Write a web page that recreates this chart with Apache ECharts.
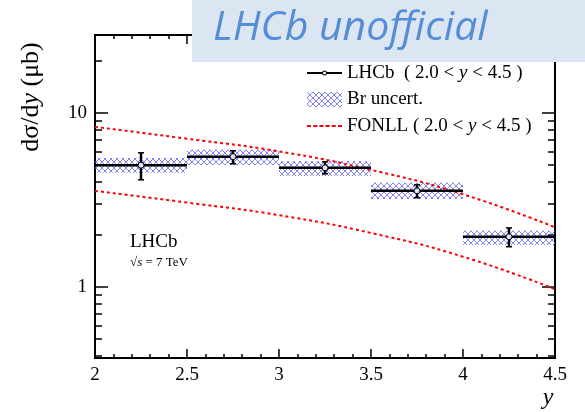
<!DOCTYPE html>
<html>
<head>
<meta charset="utf-8">
<script src="https://cdn.jsdelivr.net/npm/echarts@6/dist/echarts.min.js"></script>
<style>
  html, body { margin: 0; padding: 0; background: #fff; }
  #chart { width: 585px; height: 412px; }
</style>
</head>
<body>
<div id="chart"></div>
<script>
// rapidity bins
var binLo     = [2.0, 2.5, 3.0, 3.5, 4.0];
var binHi     = [2.5, 3.0, 3.5, 4.0, 4.5];
var binCenter = [2.25, 2.75, 3.25, 3.75, 4.25];
// LHCb measurement (μb) with error bars
var lhcbValue = [5.0, 5.6, 4.83, 3.56, 1.94];
var errLow    = [4.12, 5.09, 4.46, 3.25, 1.70];
var errHigh   = [5.89, 6.05, 5.23, 3.86, 2.18];
// Br uncertainty band
var brLow  = [4.52, 5.02, 4.34, 3.20, 1.74];
var brHigh = [5.51, 6.13, 5.29, 3.96, 2.10];
// FONLL prediction (upper / lower edge)
var fonllX     = [2.0, 2.5, 3.0, 3.5, 4.0, 4.5];
var fonllUpper = [8.3, 7.1, 6.0, 4.7, 3.4, 2.2];
var fonllLower = [3.56, 3.05, 2.58, 2.04, 1.49, 0.97];
// axis ticks
var yMajor = [1, 10];
var yMinor = [0.4, 0.5, 0.6, 0.7, 0.8, 0.9, 2, 3, 4, 5, 6, 7, 8, 9, 20];

var serif = 'Liberation Serif';

// blue cross hatch for the Br band
var hatch = document.createElement('canvas');
hatch.width = 6; hatch.height = 6;
var ctx = hatch.getContext('2d');
ctx.strokeStyle = 'rgba(90,90,245,0.75)';
ctx.lineWidth = 1;
ctx.beginPath();
ctx.moveTo(0, 0); ctx.lineTo(6, 6);
ctx.moveTo(6, 0); ctx.lineTo(0, 6);
ctx.stroke();
var hatchFill = { image: hatch, repeat: 'repeat' };

var lhcbData = [], bandData = [];
for (var i = 0; i < binLo.length; i++) {
  lhcbData.push([binLo[i], binHi[i], binCenter[i], lhcbValue[i], errLow[i], errHigh[i]]);
  bandData.push([binLo[i], binHi[i], brLow[i], brHigh[i]]);
}
var upperData = fonllX.map(function (x, k) { return [x, fonllUpper[k]]; });
var lowerData = fonllX.map(function (x, k) { return [x, fonllLower[k]]; });

// legend icons
var dashIcon = 'path://';
for (var d = 0; d < 6; d++) {
  var x0 = d * 6.2;
  dashIcon += 'M' + x0 + ',0h4v2h-4Z';
}
var markerIcon = 'path://M0,2.5H15V4.5H0Z M20,2.5H35V4.5H20Z' +
  'M15,3.5A2.5,2.5 0 1,1 20,3.5A2.5,2.5 0 1,1 15,3.5Z' +
  'M16,3.5A1.5,1.5 0 1,0 19,3.5A1.5,1.5 0 1,0 16,3.5Z';

function yAxisCfg(major) {
  return {
    type: 'log', logBase: 10, min: 0.39, max: 28,
    axisLine: { show: true, lineStyle: { color: '#000', width: 2 } },
    axisTick: { show: true, inside: true, length: major ? 13 : 7,
      customValues: major ? yMajor : yMinor,
      lineStyle: { color: '#000', width: 1.5 } },
    axisLabel: { show: major, customValues: yMajor, fontFamily: serif, fontSize: 19, color: '#000', margin: 8 },
    splitLine: { show: false }, minorSplitLine: { show: false }
  };
}
var yAxes = [yAxisCfg(true), yAxisCfg(true), yAxisCfg(false), yAxisCfg(false)];
yAxes[0].position = 'left';
yAxes[1].position = 'right';
yAxes[1].axisLabel.show = false;
yAxes[2].position = 'left';
yAxes[3].position = 'right';

function xAxisCfg(pos) {
  return {
    type: 'value', position: pos, min: 2, max: 4.5, interval: 0.5,
    axisLine: { show: true, lineStyle: { color: '#000', width: 2 } },
    axisTick: { show: true, inside: true, length: 9, lineStyle: { color: '#000', width: 1.5 } },
    minorTick: { show: true, splitNumber: 5, length: 4, lineStyle: { color: '#000', width: 1.5 } },
    axisLabel: { show: pos === 'bottom', fontFamily: serif, fontSize: 19, color: '#000', margin: 8 },
    splitLine: { show: false }
  };
}

function renderLhcb(params, api) {
  var a = api.coord([api.value(0), api.value(3)]);
  var b = api.coord([api.value(1), api.value(3)]);
  var c = api.coord([api.value(2), api.value(3)]);
  var lo = api.coord([api.value(2), api.value(4)]);
  var hi = api.coord([api.value(2), api.value(5)]);
  var s = { stroke: '#000', lineWidth: 2.5 };
  return {
    type: 'group',
    children: [
      { type: 'line', shape: { x1: a[0], y1: a[1], x2: b[0], y2: b[1] }, style: s },
      { type: 'line', shape: { x1: c[0], y1: lo[1], x2: c[0], y2: hi[1] }, style: s },
      { type: 'line', shape: { x1: c[0] - 3, y1: lo[1], x2: c[0] + 3, y2: lo[1] }, style: { stroke: '#000', lineWidth: 1.5 } },
      { type: 'line', shape: { x1: c[0] - 3, y1: hi[1], x2: c[0] + 3, y2: hi[1] }, style: { stroke: '#000', lineWidth: 1.5 } },
      { type: 'circle', shape: { cx: c[0], cy: c[1], r: 3 }, style: { fill: '#dfe2f7', stroke: '#000', lineWidth: 1 } }
    ]
  };
}

function renderBand(params, api) {
  var p1 = api.coord([api.value(0), api.value(3)]);
  var p2 = api.coord([api.value(1), api.value(2)]);
  return {
    type: 'rect',
    shape: { x: p1[0], y: p1[1], width: p2[0] - p1[0], height: p2[1] - p1[1] },
    style: { fill: hatchFill }
  };
}

var myChart = echarts.init(document.getElementById('chart'), null, { renderer: 'canvas' });
var option = {
  animation: false,
  grid: { left: 95, right: 30, top: 35, bottom: 54 },
  xAxis: [xAxisCfg('bottom'), xAxisCfg('top')],
  yAxis: yAxes,
  legend: {
    orient: 'vertical', left: 307, top: 62, padding: 0,
    itemWidth: 35, itemHeight: 15, itemGap: 4.5,
    selectedMode: false, symbolKeepAspect: true,
    data: [
      { name: 'LHCb', icon: markerIcon },
      { name: 'Br uncert.', icon: 'rect' },
      { name: 'FONLL', icon: dashIcon }
    ],
    formatter: function (name) {
      if (name === 'LHCb') return 'LHCb  ( 2.0 < {i|y} < 4.5 )';
      if (name === 'FONLL') return 'FONLL ( 2.0 < {i|y} < 4.5 )';
      return name;
    },
    textStyle: {
      fontFamily: serif, fontSize: 19, color: '#000', lineHeight: 22,
      rich: { i: { fontFamily: serif, fontSize: 19, fontStyle: 'italic', color: '#000' } }
    }
  },
  series: [
    {
      name: 'Br uncert.', type: 'custom', renderItem: renderBand,
      itemStyle: { color: hatchFill },
      encode: { x: [0, 1], y: [2, 3] }, data: bandData, silent: true, z: 2
    },
    {
      name: 'FONLL', type: 'line', data: upperData, smooth: true, symbol: 'none',
      itemStyle: { color: '#ff0000' },
      lineStyle: { color: '#ff0000', width: 2, type: [3, 3] }, silent: true, z: 3
    },
    {
      name: 'FONLL', type: 'line', data: lowerData, smooth: true, symbol: 'none',
      itemStyle: { color: '#ff0000' },
      lineStyle: { color: '#ff0000', width: 2, type: [3, 3] }, silent: true, z: 3
    },
    {
      name: 'LHCb', type: 'custom', renderItem: renderLhcb,
      itemStyle: { color: '#000' },
      encode: { x: [0, 1, 2], y: [3, 4, 5] }, data: lhcbData, silent: true, z: 4
    }
  ],
  graphic: [
    {
      type: 'text', rotation: Math.PI / 2,
      x: 31, y: 97,
      style: {
        text: 'dσ/d{i|y} (μb)', font: '26px "Liberation Serif"', fill: '#000',
        align: 'center', verticalAlign: 'middle',
        rich: { i: { fontStyle: 'italic', fontSize: 26, fontFamily: serif } }
      }
    },
    {
      type: 'text', x: 130, y: 252,
      style: { text: 'LHCb', font: '19px "Liberation Serif"', fill: '#000', verticalAlign: 'bottom' }
    },
    {
      type: 'text', x: 130, y: 263,
      style: { text: '√{i|s} = 7 TeV', font: '13px "Liberation Serif"', fill: '#000', verticalAlign: 'middle',
        rich: { i: { fontStyle: 'italic', fontSize: 13, fontFamily: serif } } }
    },
    {
      type: 'text', x: 548, y: 398,
      style: { text: 'y', font: 'italic 24px "Liberation Serif"', fill: '#000', align: 'center', verticalAlign: 'middle' }
    },
    {
      type: 'rect', z: 100, shape: { x: 192, y: 0, width: 393, height: 62 },
      style: { fill: '#dce6f2' }
    },
    {
      type: 'text', z: 101, x: 213, y: 8,
      style: { text: 'LHCb unofficial', font: 'italic 41px "Open Sans"', fill: '#558ed5', verticalAlign: 'top' }
    }
  ]
};
myChart.setOption(option);
</script>
</body>
</html>
